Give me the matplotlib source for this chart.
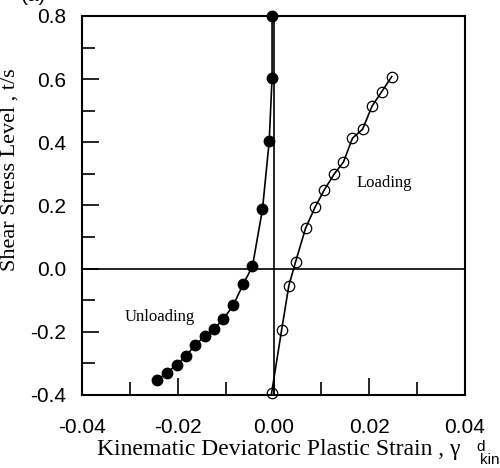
import matplotlib
matplotlib.use("Agg")
import matplotlib.pyplot as plt
from matplotlib.ticker import MultipleLocator, FormatStrFormatter

plt.rcParams['axes.unicode_minus'] = False

# unloading branch (filled circles)
unload_x = [-0.0003, -0.0003, -0.0009, -0.0023, -0.0044, -0.0063, -0.0084, -0.0105,
            -0.0124, -0.0143, -0.0164, -0.0183, -0.0202, -0.0222, -0.0243]
unload_y = [0.800, 0.604, 0.403, 0.188, 0.007, -0.048, -0.116, -0.160,
            -0.191, -0.213, -0.243, -0.276, -0.304, -0.329, -0.352]

# loading branch (open circles)
load_x = [-0.0004, 0.0017, 0.0032, 0.0046, 0.0067, 0.0087, 0.0106, 0.0127,
          0.0146, 0.0165, 0.0186, 0.0206, 0.0226, 0.0247]
load_y = [-0.394, -0.194, -0.054, 0.021, 0.128, 0.195, 0.249, 0.300,
          0.337, 0.413, 0.441, 0.515, 0.560, 0.608]

fig = plt.figure(figsize=(5.0, 4.68), dpi=100)
ax = fig.add_axes([0.164, 0.156, 0.766, 0.81])

ax.axhline(0, color='black', lw=1.2, zorder=1)
ax.axvline(0, color='black', lw=1.2, zorder=1)

ax.plot(unload_x, unload_y, 'k-', lw=1.2, marker='o', ms=7.5,
        mfc='black', mec='black', clip_on=False, zorder=3)
ax.plot(load_x, load_y, 'k-', lw=1.2, marker='o', ms=7.5,
        mfc='none', mec='black', mew=0.9, clip_on=False, zorder=3)

ax.text(0.0174, 0.27, 'Loading', family='Liberation Serif', fontsize=12, va='center')
ax.text(-0.031, -0.153, 'Unloading', family='Liberation Serif', fontsize=12, va='center')

ax.set_xlim(-0.04, 0.04)
ax.set_ylim(-0.4, 0.8)
ax.xaxis.set_major_locator(MultipleLocator(0.02))
ax.xaxis.set_minor_locator(MultipleLocator(0.01))
ax.yaxis.set_major_locator(MultipleLocator(0.2))
ax.yaxis.set_minor_locator(MultipleLocator(0.1))
ax.xaxis.set_major_formatter(FormatStrFormatter('%.2f'))
ax.yaxis.set_major_formatter(FormatStrFormatter('%.1f'))
ax.tick_params(which='major', direction='in', length=12, width=1.2,
               labelsize=15, top=False, right=False)
ax.tick_params(which='minor', direction='in', length=9.5, width=1.2,
               top=False, right=False)
ax.tick_params(axis='x', which='major', pad=16.5)
ax.tick_params(axis='y', which='major', pad=11.5)
for lab in ax.get_xticklabels() + ax.get_yticklabels():
    lab.set_family('Liberation Sans')
for s in ax.spines.values():
    s.set_linewidth(1.5)

ax.set_xlabel('Kinematic Deviatoric Plastic Strain , γ', family='Liberation Serif',
              fontsize=17)
ax.xaxis.set_label_coords(0.514, -0.117)
ax.set_ylabel('Shear Stress Level , t/s', family='Liberation Serif', fontsize=16)
ax.yaxis.set_label_coords(-0.162, 0.594)
fig.text(0.962, 0.045, 'd', family='Liberation Sans', fontsize=11, ha='center', va='center')
fig.text(0.98, 0.017, 'kin', family='Liberation Sans', fontsize=11, ha='center', va='center')
fig.text(0.066, 1.01, '(a)', family='Liberation Sans', fontsize=15, ha='center', va='center')

fig.savefig('out.png', dpi=100)
